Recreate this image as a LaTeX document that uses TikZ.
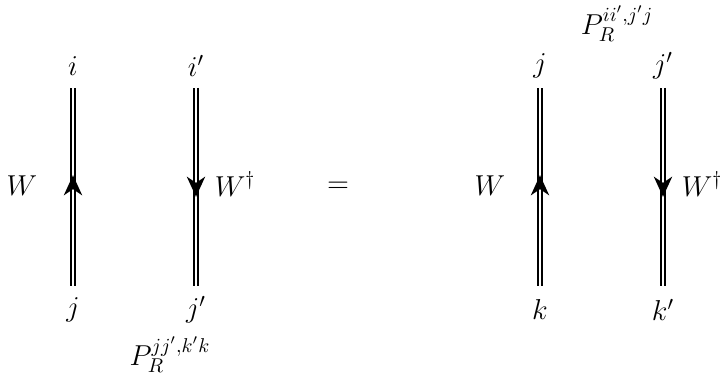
\documentclass[tikz,border=0pt]{standalone}
\usetikzlibrary{arrows.meta,decorations.markings}
\tikzset{
  wire/.style={double, double distance=1.1pt, line width=0.8pt},
  up/.style={wire, postaction={decorate, decoration={markings,
    mark=at position 0.56 with {\arrow{Stealth[length=10pt,width=9pt,inset=3pt]}}}}},
  down/.style={wire, postaction={decorate, decoration={markings,
    mark=at position 0.55 with {\arrow{Stealth[length=10pt,width=9pt,inset=3pt]}}}}},
}
\begin{document}
\begin{tikzpicture}[x=0.5pt,y=-0.5pt,every node/.style={font=\Large}]
\useasboundingbox (0,0) rectangle (724,383);

% left-hand side
\coordinate (wtop) at (73,88);
\coordinate (wbot) at (73,286);
\coordinate (wdtop) at (196,88);
\coordinate (wdbot) at (196,286);
\draw[up] (wbot) -- (wtop);
\draw[down] (wdtop) -- (wdbot);
\node (i) at (73,66) {$i$};
\node (ip) at (196,66) {$i'$};
\node (j) at (73,310) {$j$};
\node (jp) at (196,310) {$j'$};
\node (W) at (22,186) {$W$};
\node (Wd) at (235,184) {$W^\dagger$};
\node (PL) at (170,355) {$P_R^{jj',k'k}$};

\node (eq) at (338,187) {$=$};

% right-hand side
\coordinate (vtop) at (540,88);
\coordinate (vbot) at (540,286);
\coordinate (vdtop) at (663,88);
\coordinate (vdbot) at (663,286);
\draw[up] (vbot) -- (vtop);
\draw[down] (vdtop) -- (vdbot);
\node (jr) at (540,66) {$j$};
\node (jpr) at (663,66) {$j'$};
\node (k) at (540,310) {$k$};
\node (kp) at (663,310) {$k'$};
\node (W2) at (490,186) {$W$};
\node (Wd2) at (702,184) {$W^\dagger$};
\node (PR) at (617,24) {$P_R^{ii',j'j}$};
\end{tikzpicture}
\end{document}
